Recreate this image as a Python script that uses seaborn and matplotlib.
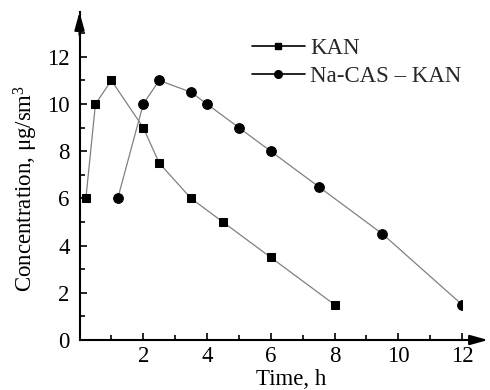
import numpy as np
import pandas as pd
import matplotlib
matplotlib.use("Agg")
import matplotlib.pyplot as plt
from matplotlib.lines import Line2D
from matplotlib.ticker import MultipleLocator
import seaborn as sns

# Data
kan_time = [0.2, 0.5, 1.0, 2.0, 2.5, 3.5, 4.5, 6.0, 8.0]
kan_conc = [6.0, 10.0, 11.0, 9.0, 7.5, 6.0, 5.0, 3.5, 1.5]
nacas_time = [1.2, 2.0, 2.5, 3.5, 4.0, 5.0, 6.0, 7.5, 9.5, 12.0]
nacas_conc = [6.0, 10.0, 11.0, 10.5, 10.0, 9.0, 8.0, 6.5, 4.5, 1.5]
series_names = ["KAN", "Na-CAS – KAN"]
x_ticks = [2, 4, 6, 8, 10, 12]
y_ticks = [0, 2, 4, 6, 8, 10, 12]

sns.set_theme(style="white")
plt.rcParams['font.family'] = ['Liberation Serif', 'DejaVu Serif']
plt.rcParams['mathtext.fontset'] = 'custom'
plt.rcParams['mathtext.rm'] = 'Liberation Serif'
plt.rcParams['mathtext.it'] = 'Liberation Serif'

FS = 16.5
fig = plt.figure(figsize=(4.9, 3.9), dpi=100)
ax = fig.add_axes([79.5/490, 50/390, (462-79.5)/490, (340-12)/390])

df_kan = pd.DataFrame({"t": kan_time, "c": kan_conc})
df_na = pd.DataFrame({"t": nacas_time, "c": nacas_conc})

sns.lineplot(data=df_kan, x="t", y="c", ax=ax, color="#808080", lw=0.9,
             marker="s", markersize=6.3, markerfacecolor="black",
             markeredgecolor="black", legend=False, zorder=3)
sns.lineplot(data=df_na, x="t", y="c", ax=ax, color="#808080", lw=0.9,
             marker="o", markersize=7, markerfacecolor="black",
             markeredgecolor="black", legend=False, zorder=3)
for ln in ax.lines:
    ln.set_clip_on(True)
    ln.set_clip_box(ax.bbox)

ax.set_xlim(0, 12)
ax.set_ylim(0, 13.9)
ax.set_xticks(x_ticks)
ax.set_yticks(y_ticks)
ax.xaxis.set_minor_locator(MultipleLocator(1))
ax.yaxis.set_minor_locator(MultipleLocator(1))
ax.tick_params(which="major", direction="in", length=5, width=1.2,
               labelsize=FS, colors="black")
ax.tick_params(which="minor", direction="in", length=3.5, width=1.2,
               colors="black")
ax.tick_params(axis="y", which="both", left=True, pad=7)
ax.tick_params(axis="x", which="both", bottom=True, pad=4)

for s in ["top", "right"]:
    ax.spines[s].set_visible(False)
for s in ["left", "bottom"]:
    ax.spines[s].set_color("black")
    ax.spines[s].set_linewidth(1.5)

# Arrows
ax.annotate("", xy=(1.068, 0), xytext=(0.99, 0), xycoords="axes fraction",
            arrowprops=dict(arrowstyle="-|>,head_length=0.9,head_width=0.25",
                            color="black", lw=1.5, shrinkA=0, shrinkB=0),
            annotation_clip=False)
ax.annotate("", xy=(0, 1.0), xytext=(0, 0.93), xycoords="axes fraction",
            arrowprops=dict(arrowstyle="-|>,head_length=0.9,head_width=0.25",
                            color="black", lw=1.5, shrinkA=0, shrinkB=0),
            annotation_clip=False)

ax.set_xlabel("Time, h", fontsize=FS, color="black")
ax.set_ylabel("Concentration, μg/sm$^3$", fontsize=FS, color="black")
ax.xaxis.set_label_coords((291-79.5)/382.5, -29/328)
ax.yaxis.set_label_coords((40-79.5)/382.5, (340-188)/328)

handles = [
    Line2D([], [], color="black", lw=1.2, marker="s", markersize=5,
           markerfacecolor="black"),
    Line2D([], [], color="black", lw=1.2, marker="o", markersize=5.5,
           markerfacecolor="black"),
]
fig.legend(handles, series_names, loc="upper left",
           bbox_to_anchor=(252/490, 1 - 38/390), frameon=False,
           fontsize=FS, handlelength=2.3, handletextpad=0.25,
           labelspacing=0.3, borderpad=0, borderaxespad=0)

fig.savefig("out.png", dpi=100, facecolor="white")
